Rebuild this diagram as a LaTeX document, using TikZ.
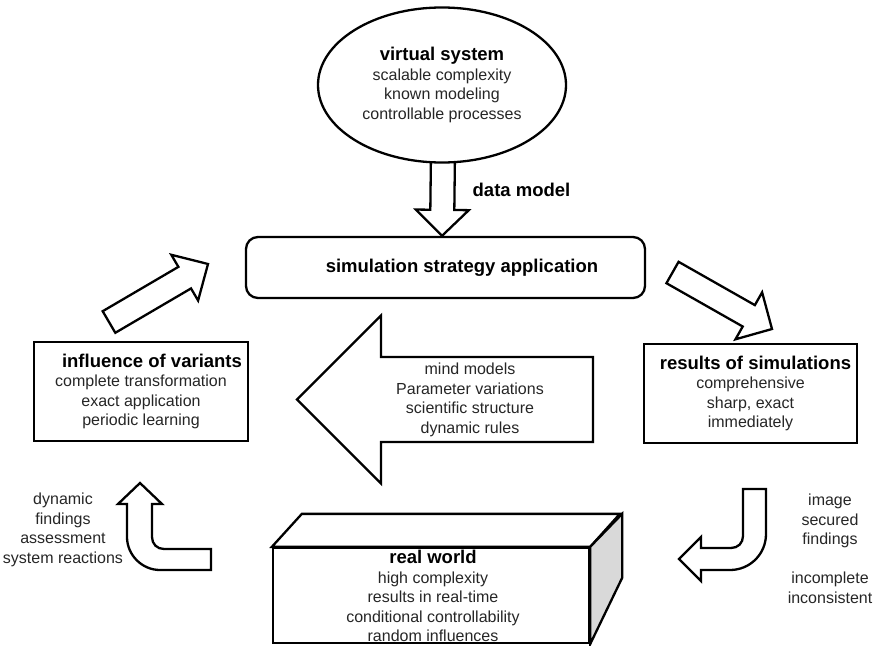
\documentclass[tikz,border=0pt]{standalone}
\usepackage{fontspec}
\setmainfont{Liberation Sans}
\usetikzlibrary{calc,shapes.geometric,backgrounds}

\tikzset{
  outline/.style={draw=black, line width=2.3pt, line join=miter},
  body/.style={outline, fill=white},
  txt/.style={align=center, font=\fontsize{16}{19.5}\selectfont, text=black!85, inner sep=0pt},
  infobox/.style={body, rectangle, txt, minimum width=#1, minimum height=99pt},
  sidefill/.style={outline, fill=black!15},
}
\newcommand\ttl[1]{{\fontsize{18.5}{19.5}\selectfont\bfseries\color{black}#1}}

% straight block arrow: tail, tip, half shaft width, half head width, head length
\newcommand\blockarrow[5]{%
  \coordinate (ba-base) at ($(#2)!#5!(#1)$);
  \draw[body]
    ($(#1)!#3!90:(#2)$) -- ($(ba-base)!#3!90:(#2)$) -- ($(ba-base)!#4!90:(#2)$)
    -- (#2)
    -- ($(ba-base)!#4!-90:(#2)$) -- ($(ba-base)!#3!-90:(#2)$) -- ($(#1)!#3!-90:(#2)$)
    -- cycle;}

\begin{document}
\begin{tikzpicture}[x=1pt, y=-1pt]
\useasboundingbox (0,0) rectangle (880,645);

% --- main nodes
\node[body, ellipse, txt, minimum width=248pt, minimum height=155pt] (vs) at (442,85)
  {\ttl{virtual system}\\ scalable complexity\\ known modeling\\ controllable processes};

\node[body, rectangle, rounded corners=12pt, minimum width=399pt, minimum height=61pt,
      txt, font=\fontsize{18.5}{19.5}\selectfont\bfseries, text=black] (ssa) at (445.5,267.5)
  {\hspace*{33pt}simulation strategy application};

\node[infobox=214pt] (inf) at (141,391.5)
  {\hspace*{22pt}\ttl{influence of variants}\\ complete transformation\\ exact application\\ periodic learning};

\node[infobox=213pt] (res) at (750.5,393.5)
  {\hspace*{10pt}\ttl{results of simulations}\\ comprehensive\\ sharp, exact\\ immediately};

% --- real world block (front face, top and side)
\node[body, rectangle, minimum width=316pt, minimum height=95pt] (rw) at (431,595.5) {};
\draw[body] (rw.north west) -- ++(30,-33) -- ++(318,0) -- (rw.north east) -- cycle;
\draw[sidefill] (rw.north east) -- ++(32,-33) -- ++(0,64) -- (rw.south east) -- cycle;
\node[txt] (rw-t) at (433,596)
  {\ttl{real world}\\ high complexity\\ results in real-time\\ conditional controllability\\ random influences};

% --- data model arrow
\coordinate (dm-tail) at ($(vs.south)+(1,-12)$);
\coordinate (dm-tip) at (vs.south |- ssa.north);
\begin{pgfonlayer}{background}
  \blockarrow{dm-tail}{dm-tip}{12pt}{26.5pt}{26pt}
\end{pgfonlayer}
\node[txt, font=\fontsize{18.5}{19.5}\selectfont\bfseries, text=black] (dm) at (521.5,190) {data model};

% --- variants feed back into the strategy
\coordinate (fb-tail) at (109,322);
\coordinate (fb-tip) at (208,264);
\blockarrow{fb-tail}{fb-tip}{12.5pt}{26.5pt}{27pt}

% --- strategy produces results
\coordinate (out-tail) at (672.5,272.5);
\coordinate (out-tip) at (772,329);
\blockarrow{out-tail}{out-tip}{12.3pt}{27pt}{26.7pt}

% --- large arrow with the simulation inputs
\coordinate (big-tail) at (593,399.5);
\coordinate (big-tip) at (297,399.5);
\blockarrow{big-tail}{big-tip}{42.5pt}{84pt}{84pt}
\node[txt] (big-t) at (470,400)
  {mind models\\ Parameter variations\\ scientific structure\\ dynamic rules};

% --- bent arrow from the real world up to the variants
\draw[body] (211,549) -- (164,549) .. controls (157,549) and (152,544) .. (152,537)
  -- (152,504) -- (162,504) -- (140,483) -- (118,504) -- (127,504) -- (127,537)
  .. controls (127,555) and (142,570) .. (160,570) -- (211,570) -- cycle;
\node[txt] (left-t) at (63,530)
  {dynamic\\ findings\\ assessment\\ system reactions};

% --- bent arrow from the results down to the real world
\draw[body] (743,489) -- (766,489) -- (766,534) .. controls (766,554) and (750,570) .. (730,570)
  -- (701,570) -- (701,581) -- (679,559) -- (701,537) -- (701,548) -- (731,548)
  .. controls (738,548) and (743,543) .. (743,536) -- cycle;
\node[txt] (right-t) at (830,549)
  {image\\ secured\\ findings\\[19.5pt] incomplete\\ inconsistent};

\end{tikzpicture}
\end{document}
